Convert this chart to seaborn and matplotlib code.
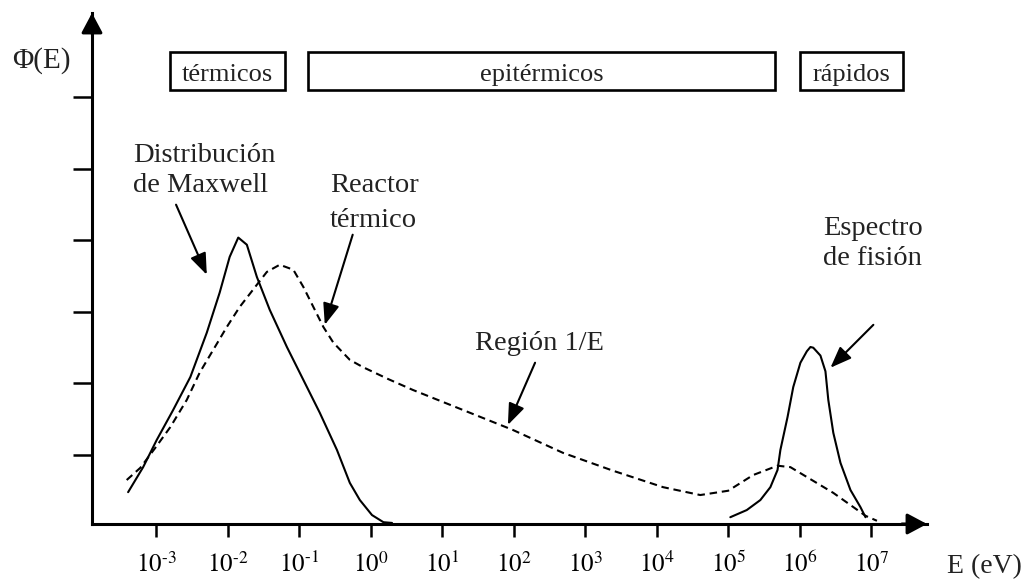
import matplotlib
matplotlib.use("Agg")
import matplotlib.pyplot as plt
from matplotlib.patches import Rectangle
from matplotlib.ticker import NullLocator
import numpy as np
import pandas as pd
import seaborn as sns

# Neutron spectra: log10(E / eV) and relative flux Phi(E)
maxwell_lgE = [-3.39, -3.18, -2.99, -2.76, -2.52, -2.29, -2.11, -1.97, -1.85,
               -1.73, -1.59, -1.41, -1.17, -0.94, -0.71, -0.47, -0.29, -0.15,
               0.02, 0.18, 0.30]
maxwell_phi = [0.48, 0.83, 1.21, 1.63, 2.09, 2.71, 3.27, 3.77, 4.04,
               3.94, 3.49, 3.03, 2.51, 2.05, 1.59, 1.07, 0.61, 0.37,
               0.16, 0.06, 0.05]

reactor_lgE = [-3.41, -3.22, -3.01, -2.80, -2.57, -2.39, -2.20, -2.01, -1.83,
               -1.59, -1.45, -1.27, -1.08, -0.94, -0.80, -0.66, -0.52, -0.29,
               -0.11, 0.25, 0.59, 1.29, 1.99, 2.69, 3.39, 4.09, 4.61, 5.00,
               5.35, 5.69, 5.87, 6.22, 6.47, 6.71, 6.92, 7.08]
reactor_phi = [0.65, 0.82, 1.10, 1.39, 1.77, 2.15, 2.47, 2.79, 3.07,
               3.38, 3.56, 3.66, 3.59, 3.35, 3.07, 2.79, 2.57, 2.33,
               2.23, 2.06, 1.91, 1.63, 1.35, 1.03, 0.78, 0.55, 0.44, 0.50,
               0.72, 0.85, 0.83, 0.62, 0.47, 0.30, 0.15, 0.08]

fission_lgE = [5.03, 5.26, 5.45, 5.59, 5.69, 5.73, 5.83, 5.91, 6.01, 6.10,
               6.15, 6.19, 6.29, 6.36, 6.40, 6.47, 6.57, 6.71, 6.85, 6.92]
fission_phi = [0.13, 0.23, 0.37, 0.55, 0.79, 1.07, 1.53, 1.95, 2.29, 2.45,
               2.51, 2.50, 2.39, 2.17, 1.77, 1.31, 0.89, 0.51, 0.27, 0.13]

decades = list(range(-3, 8))
tick_labels = [rf"$10^{{\text{{{d}}}}}$" for d in decades]
flux_ticks = [1, 2, 3, 4, 5, 6]

# Energy ranges shown as labelled boxes along the top
regions = ["térmicos", "epitérmicos", "rápidos"]
region_lo = [-2.80, -0.87, 6.01]
region_hi = [-1.20, 5.66, 7.45]

# Curve annotations: text lines (log10 E, Phi) and arrows (from -> to)
notes = [
    (["Distribución", "de Maxwell"], -3.32, [5.09, 4.68]),
    (["Reactor", "térmico"], -0.57, [4.68, 4.19]),
    (["Región 1/E"], 1.46, [2.47]),
    (["Espectro", "de fisión"], 6.33, [4.08, 3.66]),
]
arrows = [
    ((-2.72, 4.50), (-2.29, 3.52)),
    ((-0.25, 4.08), (-0.64, 2.82)),
    ((2.30, 2.29), (1.92, 1.42)),
    ((7.03, 2.82), (6.43, 2.22)),
]

frames = []
for name, lg, phi in [("Maxwell", maxwell_lgE, maxwell_phi),
                      ("Reactor", reactor_lgE, reactor_phi),
                      ("Fision", fission_lgE, fission_phi)]:
    frames.append(pd.DataFrame({"E": 10.0 ** np.asarray(lg), "phi": phi,
                                "serie": name}))
df = pd.concat(frames, ignore_index=True)

sns.set_theme(style="ticks")
plt.rcParams["font.family"] = ["Liberation Serif", "DejaVu Serif"]
plt.rcParams["mathtext.fontset"] = "stix"

fig = plt.figure(figsize=(10.24, 5.79), dpi=100)
ax = fig.add_axes([92 / 1024, 55 / 579, 835 / 1024, 511 / 579])
ax.set_xscale("log")

sns.lineplot(data=df, x="E", y="phi", hue="serie", style="serie",
             palette={"Maxwell": "black", "Reactor": "black", "Fision": "black"},
             dashes={"Maxwell": "", "Reactor": (3.6, 2.3), "Fision": ""},
             sort=False, estimator=None, legend=False, linewidth=1.5, ax=ax)

ax.set_xlim(10 ** -3.895, 10 ** 7.78)
ax.set_ylim(0.035, 7.18)
ax.set_xlabel("")
ax.set_ylabel("")

ax.set_xticks([10.0 ** d for d in decades])
ax.set_xticklabels(tick_labels)
ax.xaxis.set_minor_locator(NullLocator())
ax.set_yticks(flux_ticks)
ax.set_yticklabels([])
ax.tick_params(axis="x", direction="out", length=9.5, width=1.8,
               labelsize=18, pad=10.5, colors="black", bottom=True)
ax.tick_params(axis="y", direction="out", length=13.5, width=1.8,
               left=True, colors="black")

for side in ("top", "right"):
    ax.spines[side].set_visible(False)
for side in ("left", "bottom"):
    ax.spines[side].set_linewidth(2.2)
    ax.spines[side].set_color("black")

head = "-|>,head_length=0.6,head_width=0.32"
ax.annotate("", xy=(0, 1), xytext=(0, 0.96), xycoords="axes fraction",
            arrowprops=dict(arrowstyle=head, color="black", lw=2.2,
                            mutation_scale=20, shrinkA=0, shrinkB=0))
ax.annotate("", xy=(1, 0), xytext=(0.97, 0), xycoords="axes fraction",
            arrowprops=dict(arrowstyle=head, color="black", lw=2.2,
                            mutation_scale=20, shrinkA=0, shrinkB=0))

for name, lo, hi in zip(regions, region_lo, region_hi):
    ax.add_patch(Rectangle((10 ** lo, 6.10), 10 ** hi - 10 ** lo, 0.535,
                           fill=False, edgecolor="black", linewidth=1.9,
                           clip_on=False))
    ax.text(10 ** ((lo + hi) / 2), 6.23, name, ha="center", va="baseline",
            fontsize=19, color="#222222")

for lines, lg, ys in notes:
    for line, y in zip(lines, ys):
        ax.text(10 ** lg, y, line, ha="left", va="baseline",
                fontsize=20.5, color="#222222")

for (lg0, y0), (lg1, y1) in arrows:
    ax.annotate("", xy=(10 ** lg1, y1), xytext=(10 ** lg0, y0),
                arrowprops=dict(arrowstyle="-|>,head_length=0.65,head_width=0.25",
                                color="black", lw=1.5, mutation_scale=20,
                                shrinkA=0, shrinkB=0))

fig.text(41 / 1024, 1 - 61 / 579, "Φ(E)", ha="center", va="center",
         fontsize=21, color="#222222")
fig.text(947 / 1024, 1 - 573 / 579, "E (eV)", ha="left", va="baseline",
         fontsize=20, color="#222222")

fig.savefig("out.png", dpi=100, facecolor="white")
